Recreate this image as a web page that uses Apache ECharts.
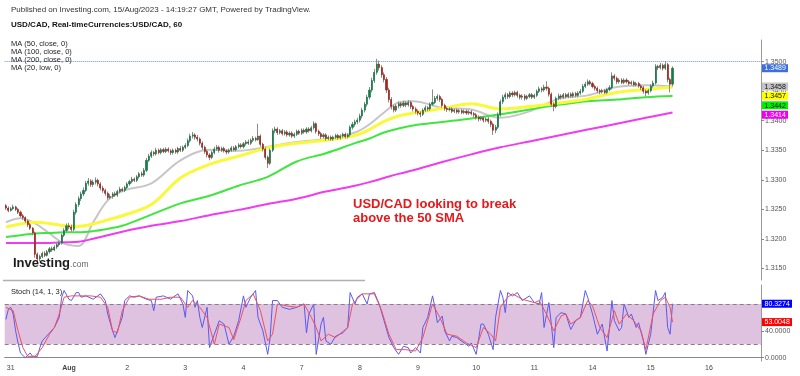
<!DOCTYPE html>
<html>
<head>
<meta charset="utf-8">
<script src="https://cdn.jsdelivr.net/npm/echarts@6/dist/echarts.min.js"></script>
<style>
  html, body { margin: 0; padding: 0; background: #fff; }
  #chart { width: 800px; height: 376px; }
</style>
</head>
<body>
<div id="chart"></div>
<script>
// ---- data (USD/CAD hourly) ----
const dayLabels = ['31', 'Aug', '2', '3', '4', '7', '8', '9', '10', '11', '14', '15', '16'];
const firstDayIdx = 2;      // bar index of the "31" label
const barsPerDay = 24;
const slotCount = 312;      // bars + empty space to the right axis

const firstOpen = 1.3256;
const closes = [
  1.3252, 1.3248, 1.3251, 1.3254, 1.3250, 1.3245, 1.3239, 1.3236, 1.3230, 1.3224, 1.3218, 1.3210,
  1.3174, 1.3166, 1.3170, 1.3175, 1.3172, 1.3178, 1.3183, 1.3181, 1.3186, 1.3190, 1.3193, 1.3206,
  1.3214, 1.3222, 1.3220, 1.3216, 1.3245, 1.3258, 1.3268, 1.3276, 1.3282, 1.3294, 1.3298, 1.3292,
  1.3296, 1.3299, 1.3293, 1.3286, 1.3282, 1.3277, 1.3270, 1.3272, 1.3276, 1.3274, 1.3280, 1.3284,
  1.3282, 1.3287, 1.3293, 1.3297, 1.3301, 1.3299, 1.3305, 1.3310, 1.3308, 1.3316, 1.3333, 1.3340,
  1.3346, 1.3344, 1.3350, 1.3346, 1.3351, 1.3348, 1.3352, 1.3349, 1.3346, 1.3350, 1.3347, 1.3353,
  1.3350, 1.3355, 1.3358, 1.3366, 1.3374, 1.3376, 1.3372, 1.3369, 1.3362, 1.3355, 1.3348, 1.3342,
  1.3338, 1.3346, 1.3352, 1.3355, 1.3350, 1.3353, 1.3349, 1.3347, 1.3350, 1.3354, 1.3351, 1.3356,
  1.3359, 1.3356, 1.3361, 1.3364, 1.3362, 1.3367, 1.3370, 1.3368, 1.3374, 1.3360, 1.3352, 1.3338,
  1.3328, 1.3350, 1.3383, 1.3386, 1.3380, 1.3383, 1.3378, 1.3381, 1.3376, 1.3379, 1.3374, 1.3377,
  1.3382, 1.3379, 1.3384, 1.3381, 1.3386, 1.3383, 1.3388, 1.3395, 1.3382, 1.3378, 1.3373, 1.3376,
  1.3370, 1.3372, 1.3369, 1.3372, 1.3375, 1.3371, 1.3374, 1.3377, 1.3373, 1.3376, 1.3389, 1.3394,
  1.3398, 1.3401, 1.3408, 1.3418, 1.3428, 1.3440, 1.3452, 1.3468, 1.3482, 1.3496, 1.3490, 1.3478,
  1.3470, 1.3452, 1.3436, 1.3424, 1.3418, 1.3425, 1.3429, 1.3426, 1.3430, 1.3427, 1.3431, 1.3424,
  1.3420, 1.3416, 1.3413, 1.3411, 1.3418, 1.3422, 1.3420, 1.3428, 1.3431, 1.3438, 1.3441, 1.3436,
  1.3426, 1.3421, 1.3419, 1.3420, 1.3416, 1.3418, 1.3415, 1.3417, 1.3414, 1.3416, 1.3413, 1.3415,
  1.3412, 1.3410, 1.3406, 1.3403, 1.3405, 1.3401, 1.3403, 1.3399, 1.3394, 1.3384, 1.3389, 1.3410,
  1.3432, 1.3440, 1.3444, 1.3441, 1.3447, 1.3444, 1.3448, 1.3443, 1.3440, 1.3442, 1.3438, 1.3441,
  1.3444, 1.3440, 1.3443, 1.3450, 1.3454, 1.3452, 1.3457, 1.3455, 1.3445, 1.3428, 1.3424, 1.3438,
  1.3442, 1.3440, 1.3444, 1.3441, 1.3445, 1.3442, 1.3446, 1.3443, 1.3447, 1.3450, 1.3458, 1.3462,
  1.3466, 1.3463, 1.3458, 1.3455, 1.3451, 1.3449, 1.3451, 1.3448, 1.3453, 1.3456, 1.3476, 1.3472,
  1.3466, 1.3469, 1.3465, 1.3469, 1.3466, 1.3463, 1.3465, 1.3461, 1.3463, 1.3459, 1.3456, 1.3450,
  1.3447, 1.3451, 1.3459, 1.3464, 1.3492, 1.3490, 1.3494, 1.3489, 1.3495, 1.3470, 1.3462, 1.3489
];
const highs = [
  1.3259, 1.3255, 1.3254, 1.3258, 1.3256, 1.3252, 1.3248, 1.3242, 1.3238, 1.3233, 1.3227, 1.3220,
  1.3212, 1.3177, 1.3173, 1.3178, 1.3179, 1.3181, 1.3186, 1.3187, 1.3189, 1.3193, 1.3197, 1.3209,
  1.3218, 1.3226, 1.3227, 1.3224, 1.3249, 1.3262, 1.3272, 1.3280, 1.3287, 1.3298, 1.3303, 1.3301,
  1.3300, 1.3304, 1.3302, 1.3296, 1.3290, 1.3285, 1.3280, 1.3276, 1.3279, 1.3280, 1.3283, 1.3288,
  1.3287, 1.3290, 1.3296, 1.3300, 1.3305, 1.3304, 1.3308, 1.3313, 1.3314, 1.3320, 1.3337, 1.3344,
  1.3350, 1.3349, 1.3354, 1.3353, 1.3354, 1.3354, 1.3355, 1.3355, 1.3352, 1.3353, 1.3353, 1.3356,
  1.3357, 1.3358, 1.3362, 1.3370, 1.3378, 1.3381, 1.3379, 1.3376, 1.3372, 1.3365, 1.3358, 1.3351,
  1.3345, 1.3349, 1.3356, 1.3359, 1.3358, 1.3356, 1.3356, 1.3352, 1.3353, 1.3357, 1.3357, 1.3359,
  1.3362, 1.3362, 1.3364, 1.3367, 1.3368, 1.3370, 1.3374, 1.3373, 1.3395, 1.3377, 1.3363, 1.3355,
  1.3341, 1.3353, 1.3387, 1.3390, 1.3389, 1.3386, 1.3386, 1.3384, 1.3384, 1.3382, 1.3382, 1.3380,
  1.3385, 1.3385, 1.3387, 1.3387, 1.3389, 1.3389, 1.3391, 1.3399, 1.3397, 1.3385, 1.3381, 1.3379,
  1.3379, 1.3375, 1.3375, 1.3375, 1.3378, 1.3378, 1.3377, 1.3380, 1.3380, 1.3379, 1.3392, 1.3398,
  1.3402, 1.3405, 1.3412, 1.3422, 1.3432, 1.3444, 1.3457, 1.3473, 1.3488, 1.3505, 1.3502, 1.3494,
  1.3482, 1.3474, 1.3456, 1.3440, 1.3427, 1.3428, 1.3433, 1.3432, 1.3434, 1.3433, 1.3435, 1.3434,
  1.3427, 1.3423, 1.3419, 1.3416, 1.3421, 1.3426, 1.3425, 1.3431, 1.3453, 1.3442, 1.3445, 1.3444,
  1.3439, 1.3429, 1.3424, 1.3423, 1.3423, 1.3421, 1.3421, 1.3420, 1.3420, 1.3419, 1.3419, 1.3418,
  1.3418, 1.3415, 1.3413, 1.3409, 1.3408, 1.3408, 1.3406, 1.3406, 1.3402, 1.3397, 1.3393, 1.3414,
  1.3436, 1.3444, 1.3448, 1.3447, 1.3450, 1.3450, 1.3451, 1.3451, 1.3446, 1.3445, 1.3445, 1.3444,
  1.3447, 1.3447, 1.3446, 1.3453, 1.3458, 1.3457, 1.3461, 1.3467, 1.3458, 1.3448, 1.3431, 1.3441,
  1.3446, 1.3445, 1.3447, 1.3447, 1.3448, 1.3448, 1.3449, 1.3449, 1.3450, 1.3454, 1.3462, 1.3466,
  1.3470, 1.3469, 1.3466, 1.3461, 1.3458, 1.3454, 1.3454, 1.3454, 1.3456, 1.3460, 1.3482, 1.3479,
  1.3475, 1.3472, 1.3472, 1.3472, 1.3472, 1.3469, 1.3468, 1.3468, 1.3466, 1.3466, 1.3462, 1.3459,
  1.3453, 1.3454, 1.3462, 1.3468, 1.3496, 1.3495, 1.3498, 1.3497, 1.3501, 1.3498, 1.3473, 1.3492
];
const lows = [
  1.3249, 1.3245, 1.3246, 1.3249, 1.3247, 1.3242, 1.3236, 1.3232, 1.3227, 1.3220, 1.3215, 1.3206,
  1.3168, 1.3159, 1.3162, 1.3167, 1.3169, 1.3170, 1.3175, 1.3178, 1.3179, 1.3183, 1.3187, 1.3190,
  1.3203, 1.3211, 1.3216, 1.3212, 1.3213, 1.3241, 1.3254, 1.3264, 1.3272, 1.3279, 1.3290, 1.3288,
  1.3288, 1.3292, 1.3289, 1.3282, 1.3278, 1.3273, 1.3266, 1.3267, 1.3268, 1.3271, 1.3271, 1.3277,
  1.3279, 1.3279, 1.3284, 1.3290, 1.3294, 1.3296, 1.3296, 1.3302, 1.3305, 1.3305, 1.3313, 1.3330,
  1.3337, 1.3340, 1.3341, 1.3343, 1.3343, 1.3345, 1.3345, 1.3346, 1.3342, 1.3343, 1.3344, 1.3344,
  1.3347, 1.3347, 1.3352, 1.3355, 1.3363, 1.3370, 1.3368, 1.3365, 1.3358, 1.3351, 1.3344, 1.3338,
  1.3333, 1.3335, 1.3343, 1.3349, 1.3346, 1.3347, 1.3346, 1.3343, 1.3344, 1.3347, 1.3348, 1.3348,
  1.3353, 1.3353, 1.3353, 1.3358, 1.3359, 1.3359, 1.3364, 1.3365, 1.3366, 1.3356, 1.3348, 1.3334,
  1.3320, 1.3325, 1.3347, 1.3379, 1.3376, 1.3377, 1.3375, 1.3375, 1.3373, 1.3373, 1.3371, 1.3371,
  1.3374, 1.3376, 1.3376, 1.3378, 1.3378, 1.3380, 1.3380, 1.3385, 1.3378, 1.3374, 1.3369, 1.3370,
  1.3366, 1.3367, 1.3366, 1.3366, 1.3369, 1.3368, 1.3368, 1.3371, 1.3370, 1.3370, 1.3373, 1.3385,
  1.3390, 1.3394, 1.3397, 1.3404, 1.3414, 1.3424, 1.3436, 1.3448, 1.3464, 1.3478, 1.3485, 1.3473,
  1.3465, 1.3447, 1.3431, 1.3419, 1.3414, 1.3415, 1.3421, 1.3422, 1.3423, 1.3423, 1.3424, 1.3420,
  1.3416, 1.3412, 1.3409, 1.3406, 1.3408, 1.3415, 1.3416, 1.3417, 1.3425, 1.3428, 1.3434, 1.3432,
  1.3422, 1.3417, 1.3415, 1.3416, 1.3413, 1.3413, 1.3412, 1.3412, 1.3411, 1.3411, 1.3410, 1.3410,
  1.3409, 1.3406, 1.3402, 1.3399, 1.3400, 1.3397, 1.3398, 1.3395, 1.3389, 1.3376, 1.3379, 1.3386,
  1.3407, 1.3428, 1.3436, 1.3437, 1.3438, 1.3440, 1.3441, 1.3439, 1.3436, 1.3436, 1.3434, 1.3435,
  1.3438, 1.3437, 1.3437, 1.3440, 1.3447, 1.3448, 1.3449, 1.3451, 1.3441, 1.3423, 1.3416, 1.3421,
  1.3435, 1.3436, 1.3437, 1.3438, 1.3438, 1.3439, 1.3439, 1.3440, 1.3440, 1.3444, 1.3447, 1.3455,
  1.3459, 1.3460, 1.3455, 1.3451, 1.3447, 1.3445, 1.3446, 1.3445, 1.3445, 1.3450, 1.3453, 1.3468,
  1.3462, 1.3463, 1.3462, 1.3462, 1.3463, 1.3460, 1.3460, 1.3458, 1.3458, 1.3456, 1.3452, 1.3446,
  1.3441, 1.3444, 1.3448, 1.3456, 1.3461, 1.3486, 1.3487, 1.3485, 1.3486, 1.3465, 1.3448, 1.3458
];

// moving averages, read at these bar indexes
const maIdx  = [0, 6, 12, 18, 24, 30, 36, 42, 48, 60, 72, 84, 96, 108, 120, 132, 144, 150, 156, 162, 168, 180, 192, 204, 216, 228, 240, 252, 264, 275];
const ma20low = [1.3228, 1.3235, 1.3226, 1.3209, 1.3192, 1.3188, 1.3228, 1.3265, 1.3281, 1.3294, 1.3333, 1.3351, 1.3349, 1.3356, 1.3364, 1.3369, 1.3380, 1.3394, 1.3414, 1.3431, 1.3433, 1.3422, 1.3419, 1.3405, 1.3416, 1.3437, 1.3443, 1.3457, 1.3460, 1.3458];
const ma50  = [1.3220, 1.3225, 1.3228, 1.3226, 1.3222, 1.3221, 1.3225, 1.3232, 1.3239, 1.3258, 1.3303, 1.3326, 1.3340, 1.3354, 1.3362, 1.3367, 1.3375, 1.3385, 1.3399, 1.3408, 1.3413, 1.3421, 1.3429, 1.3420, 1.3424, 1.3430, 1.3437, 1.3448, 1.3453, 1.3457];
const ma100 = [1.3203, 1.3206, 1.3209, 1.3210, 1.3211, 1.3211, 1.3213, 1.3217, 1.3222, 1.3241, 1.3260, 1.3273, 1.3290, 1.3305, 1.3331, 1.3345, 1.3362, 1.3370, 1.3380, 1.3387, 1.3392, 1.3398, 1.3404, 1.3411, 1.3419, 1.3427, 1.3433, 1.3436, 1.3440, 1.3442];
const ma200 = [1.3193, 1.3193, 1.3193, 1.3193, 1.3194, 1.3195, 1.3200, 1.3206, 1.3212, 1.3222, 1.3230, 1.3240, 1.3249, 1.3259, 1.3268, 1.3280, 1.3290, 1.3296, 1.3303, 1.3310, 1.3316, 1.3330, 1.3343, 1.3355, 1.3365, 1.3375, 1.3385, 1.3395, 1.3405, 1.3414];

// stochastic (14, 1, 3)
const kIdx = [0,1,2,3,4,5,6,8,10,11, 13,14,15,18,20,22,23,24,26,27, 29,30,31,33,36,39,41,42,44,45,
  46,48,49,51,53,55,58,60,61,62, 65,68,69,71,73,74,75,77,78,79, 80,81,83,84,86,88,90,92,94,96,
  98,99,101,103,104,106,108,109,110,112, 114,117,120,123,124,125,127,128,130,131,
  132,134,136,139,141,142,144,145,147,149, 150,152,154,156,158,160,162,164,166,167,
  169,171,172,174,176,177,178,180,181,183, 184,186,189,191,192,194,196,197,199,201,
  202,204,205,206,207,209,211,213,216,218, 220,221,222,224,225,226,227,229,231,233,
  235,237,239,240,242,244,246,248,249,250, 251,253,254,255,257,258,260,261,263,264,
  266,268,269,271,272,273,274,275];
const kVal = [57,72,75,65,40,22,7,0,7,2, 2,15,25,37,45,60,90,100,87,85, 97,97,90,92,87,95,85,65,40,30,
  40,60,85,92,90,92,87,85,70,90, 92,87,90,95,80,60,100,92,75,85, 60,45,75,15,35,55,50,20,32,55,
  92,75,90,100,60,40,5,30,85,85, 75,72,75,80,37,65,80,5,50,60,
  25,20,32,37,45,97,80,90,95,80, 95,97,80,55,30,15,5,17,15,7,
  15,7,45,60,92,75,52,62,40,25, 32,30,22,17,22,5,50,50,35,12,
  60,100,90,67,97,92,97,85,92,82, 80,97,45,82,50,15,60,67,65,42,
  55,60,100,90,65,35,50,10,45,85, 55,40,45,80,60,65,45,52,25,5,
  35,100,85,90,97,45,35,80.3274];
const dIdx = [0,3,5,7,9,12,15,18,20,22, 24,27,31,35,39,42,44,46,48,51, 55,59,64,68,72,75,77,80,83,86,
  88,92,94,97,99,102,105,108,110,112, 116,120,123,126,128,130,133,136,141,143,
  147,152,155,158,161,165,169,172,174,176, 179,182,186,190,194,197,200,202,204,207,
  209,213,218,220,223,226,229,231,233,237, 240,242,245,248,251,253,256,259,262,264,
  267,270,272,274,275];
const dVal = [75,70,40,15,2,2,15,35,45,65, 90,92,92,92,90,75,40,37,70,90, 92,87,87,90,90,75,85,75,60,20,
  50,45,27,60,85,95,70,25,35,80, 77,75,80,60,45,25,35,30,45,80,
  95,95,70,35,12,12,10,30,55,80, 60,35,32,22,15,45,35,25,75,90,
  95,87,82,85,65,40,62,65,50,60, 85,77,45,30,70,50,65,55,40,12,
  65,85,90,75,53.0048];

const priceTicks = [1.315, 1.32, 1.325, 1.33, 1.335, 1.34, 1.345, 1.35];
const stochTicks = [0, 40];
const stochBands = [20, 80];

// ---- build ----
const FONT = '"Liberation Sans", Arial, sans-serif';
const categories = [];
for (let i = 0; i < slotCount; i++) {
  const d = i - firstDayIdx;
  categories.push(d >= 0 && d % barsPerDay === 0 ? (dayLabels[d / barsPerDay] || '') : '');
}
const opens = closes.map((c, i) => i === 0 ? firstOpen : closes[i - 1]);
const wickData = closes.map((c, i) => [opens[i], c, lows[i], highs[i]]);
const bodyData = closes.map((c, i) => [opens[i], c, Math.min(opens[i], c), Math.max(opens[i], c)]);
const lastClose = closes[closes.length - 1];
const pairs = (xs, ys) => xs.map((x, k) => [x, ys[k]]);

const chart = echarts.init(document.getElementById('chart'));

const maLine = (name, vals, color, width, z) => ({
  name, type: 'line', xAxisIndex: 0, yAxisIndex: 0, data: pairs(maIdx, vals),
  showSymbol: false, smooth: 0.35, silent: true, z,
  lineStyle: { color, width }
});

const option = {
  animation: false,
  backgroundColor: '#fff',
  grid: [
    { left: 4.7, right: 39, top: 40, height: 240 },
    { left: 4.7, right: 39, top: 285, height: 76 }
  ],
  xAxis: [
    { type: 'category', gridIndex: 0, data: categories, boundaryGap: true, show: false },
    {
      type: 'category', gridIndex: 1, data: categories, boundaryGap: true,
      axisLine: { lineStyle: { color: '#888', width: 1 } },
      axisTick: { alignWithLabel: true, length: 3, interval: (i, v) => v !== '', lineStyle: { color: '#888' } },
      axisLabel: {
        interval: (i, v) => v !== '', margin: 4, fontSize: 7, color: '#444', fontFamily: FONT,
        formatter: v => v === 'Aug' ? '{b|Aug}' : v,
        rich: { b: { fontWeight: 'bold', fontSize: 7, color: '#444', fontFamily: FONT } }
      },
      splitLine: { show: false }
    }
  ],
  yAxis: [
    {
      type: 'value', gridIndex: 0, position: 'right', min: 1.31302, max: 1.35368,
      axisLine: { show: true, lineStyle: { color: '#999' } },
      axisTick: { show: true, length: 3, customValues: priceTicks, lineStyle: { color: '#888' } },
      axisLabel: { customValues: priceTicks, formatter: v => v.toFixed(4), fontSize: 7, color: '#555', margin: 4, fontFamily: FONT },
      splitLine: { show: false }
    },
    {
      type: 'value', gridIndex: 1, position: 'right', min: -4.9, max: 108.2,
      axisLine: { show: true, lineStyle: { color: '#999' } },
      axisTick: { show: true, length: 3, customValues: stochTicks, lineStyle: { color: '#888' } },
      axisLabel: { customValues: stochTicks, formatter: v => v.toFixed(4), fontSize: 7, color: '#555', margin: 4, fontFamily: FONT },
      splitLine: { show: false }
    }
  ],
  series: [
    maLine('MA20 low', ma20low, '#c6c6c6', 2, 2),
    maLine('MA200', ma200, '#f03cf0', 2, 2),
    maLine('MA100', ma100, '#3ee63e', 2, 2),
    maLine('MA50', ma50, '#f9f93c', 3, 2),
    {
      name: 'wicks', type: 'candlestick', xAxisIndex: 0, yAxisIndex: 0, data: wickData,
      barWidth: 0.8, silent: true, z: 3,
      itemStyle: { color: '#8c8c8c', color0: '#8c8c8c', borderColor: '#8c8c8c', borderColor0: '#8c8c8c', borderWidth: 1 }
    },
    {
      name: 'USD/CAD', type: 'candlestick', xAxisIndex: 0, yAxisIndex: 0, data: bodyData,
      barWidth: 1.6, silent: true, z: 4,
      itemStyle: { color: '#18794a', color0: '#a0261c', borderColor: '#18794a', borderColor0: '#a0261c', borderWidth: 0.7 },
      markLine: {
        silent: true, symbol: 'none', label: { show: false },
        lineStyle: { color: '#6f8fe3', type: 'dotted', width: 1 },
        data: [{ yAxis: lastClose }]
      }
    },
    {
      name: '%K', type: 'line', xAxisIndex: 1, yAxisIndex: 1, data: pairs(kIdx, kVal),
      showSymbol: false, silent: true, z: 3,
      lineStyle: { color: '#5a5af2', width: 1 },
      markArea: {
        silent: true, itemStyle: { color: '#dfc1e0' },
        data: [[{ yAxis: stochBands[0] }, { yAxis: stochBands[1] }]]
      },
      markLine: {
        silent: true, symbol: 'none', label: { show: false },
        lineStyle: { color: '#8b7d8d', type: [4, 3], width: 1 },
        data: stochBands.map(v => ({ yAxis: v }))
      }
    },
    {
      name: '%D', type: 'line', xAxisIndex: 1, yAxisIndex: 1, data: pairs(dIdx, dVal),
      showSymbol: false, silent: true, z: 4,
      lineStyle: { color: '#f2505a', width: 1 }
    }
  ]
};
chart.setOption(option);

// ---- texts and value badges ----
function txt(x, y, text, font, fill) {
  return { type: 'text', x, y, z: 50, silent: true, style: { text, font, fill, verticalAlign: 'middle' } };
}
function badges(axisIdx, items, width) {
  const placed = items.map(it => Object.assign({}, it, { py: chart.convertToPixel({ yAxisIndex: axisIdx }, it.value) }))
    .sort((a, b) => a.py - b.py);
  for (let k = 1; k < placed.length; k++) {
    if (placed[k].py - placed[k - 1].py < 9.4) placed[k].py = placed[k - 1].py + 9.4;
  }
  const out = [];
  placed.forEach(it => {
    out.push({ type: 'rect', z: 60, silent: true, shape: { x: 762, y: it.py - 4, width, height: 8 }, style: { fill: it.bg } });
    out.push({ type: 'text', z: 61, silent: true, x: 764.5, y: it.py + 0.3,
      style: { text: it.value.toFixed(4), font: '7px ' + FONT, fill: it.fg, verticalAlign: 'middle' } });
  });
  return out;
}

const graphics = [
  txt(11, 10, 'Published on Investing.com, 15/Aug/2023 - 14:19:27 GMT, Powered by TradingView.', '8px ' + FONT, '#333'),
  txt(11, 25, 'USD/CAD, Real-timeCurrencies:USD/CAD, 60', 'bold 8px ' + FONT, '#111'),
  txt(11, 43.5, 'MA (50, close, 0)', '7.5px ' + FONT, '#222'),
  txt(11, 51.5, 'MA (100, close, 0)', '7.5px ' + FONT, '#222'),
  txt(11, 59.5, 'MA (200, close, 0)', '7.5px ' + FONT, '#222'),
  txt(11, 68, 'MA (20, low, 0)', '7.5px ' + FONT, '#222'),
  txt(353, 204, 'USD/CAD looking to break', 'bold 13px ' + FONT, '#e3191c'),
  txt(353, 218.5, 'above the 50 SMA', 'bold 13px ' + FONT, '#e3191c'),
  {
    type: 'text', x: 13, y: 263.5, z: 50, silent: true,
    style: {
      text: '{a|Investing}{b|.com}', verticalAlign: 'middle',
      rich: {
        a: { font: 'bold 13px ' + FONT, fill: '#1b1b1b' },
        b: { font: '8.5px ' + FONT, fill: '#666', padding: [3, 0, 0, 0] }
      }
    }
  },
  { type: 'line', z: 50, silent: true, shape: { x1: 3, y1: 280.5, x2: 365, y2: 280.5 }, style: { stroke: '#b0b0b0', lineWidth: 1.5 } },
  txt(11, 292, 'Stoch (14, 1, 3)', '7.5px ' + FONT, '#222')
].concat(
  badges(0, [
    { value: lastClose, bg: '#3d6fdc', fg: '#fff' },
    { value: ma20low[ma20low.length - 1], bg: '#c4c4c4', fg: '#111' },
    { value: ma50[ma50.length - 1], bg: '#ffff00', fg: '#111' },
    { value: ma100[ma100.length - 1], bg: '#00f000', fg: '#111' },
    { value: ma200[ma200.length - 1], bg: '#f000f0', fg: '#fff' }
  ], 26),
  badges(1, [
    { value: kVal[kVal.length - 1], bg: '#0000ff', fg: '#fff' },
    { value: dVal[dVal.length - 1], bg: '#ff0000', fg: '#fff' }
  ], 30)
);
chart.setOption({ graphic: graphics });
</script>
</body>
</html>
